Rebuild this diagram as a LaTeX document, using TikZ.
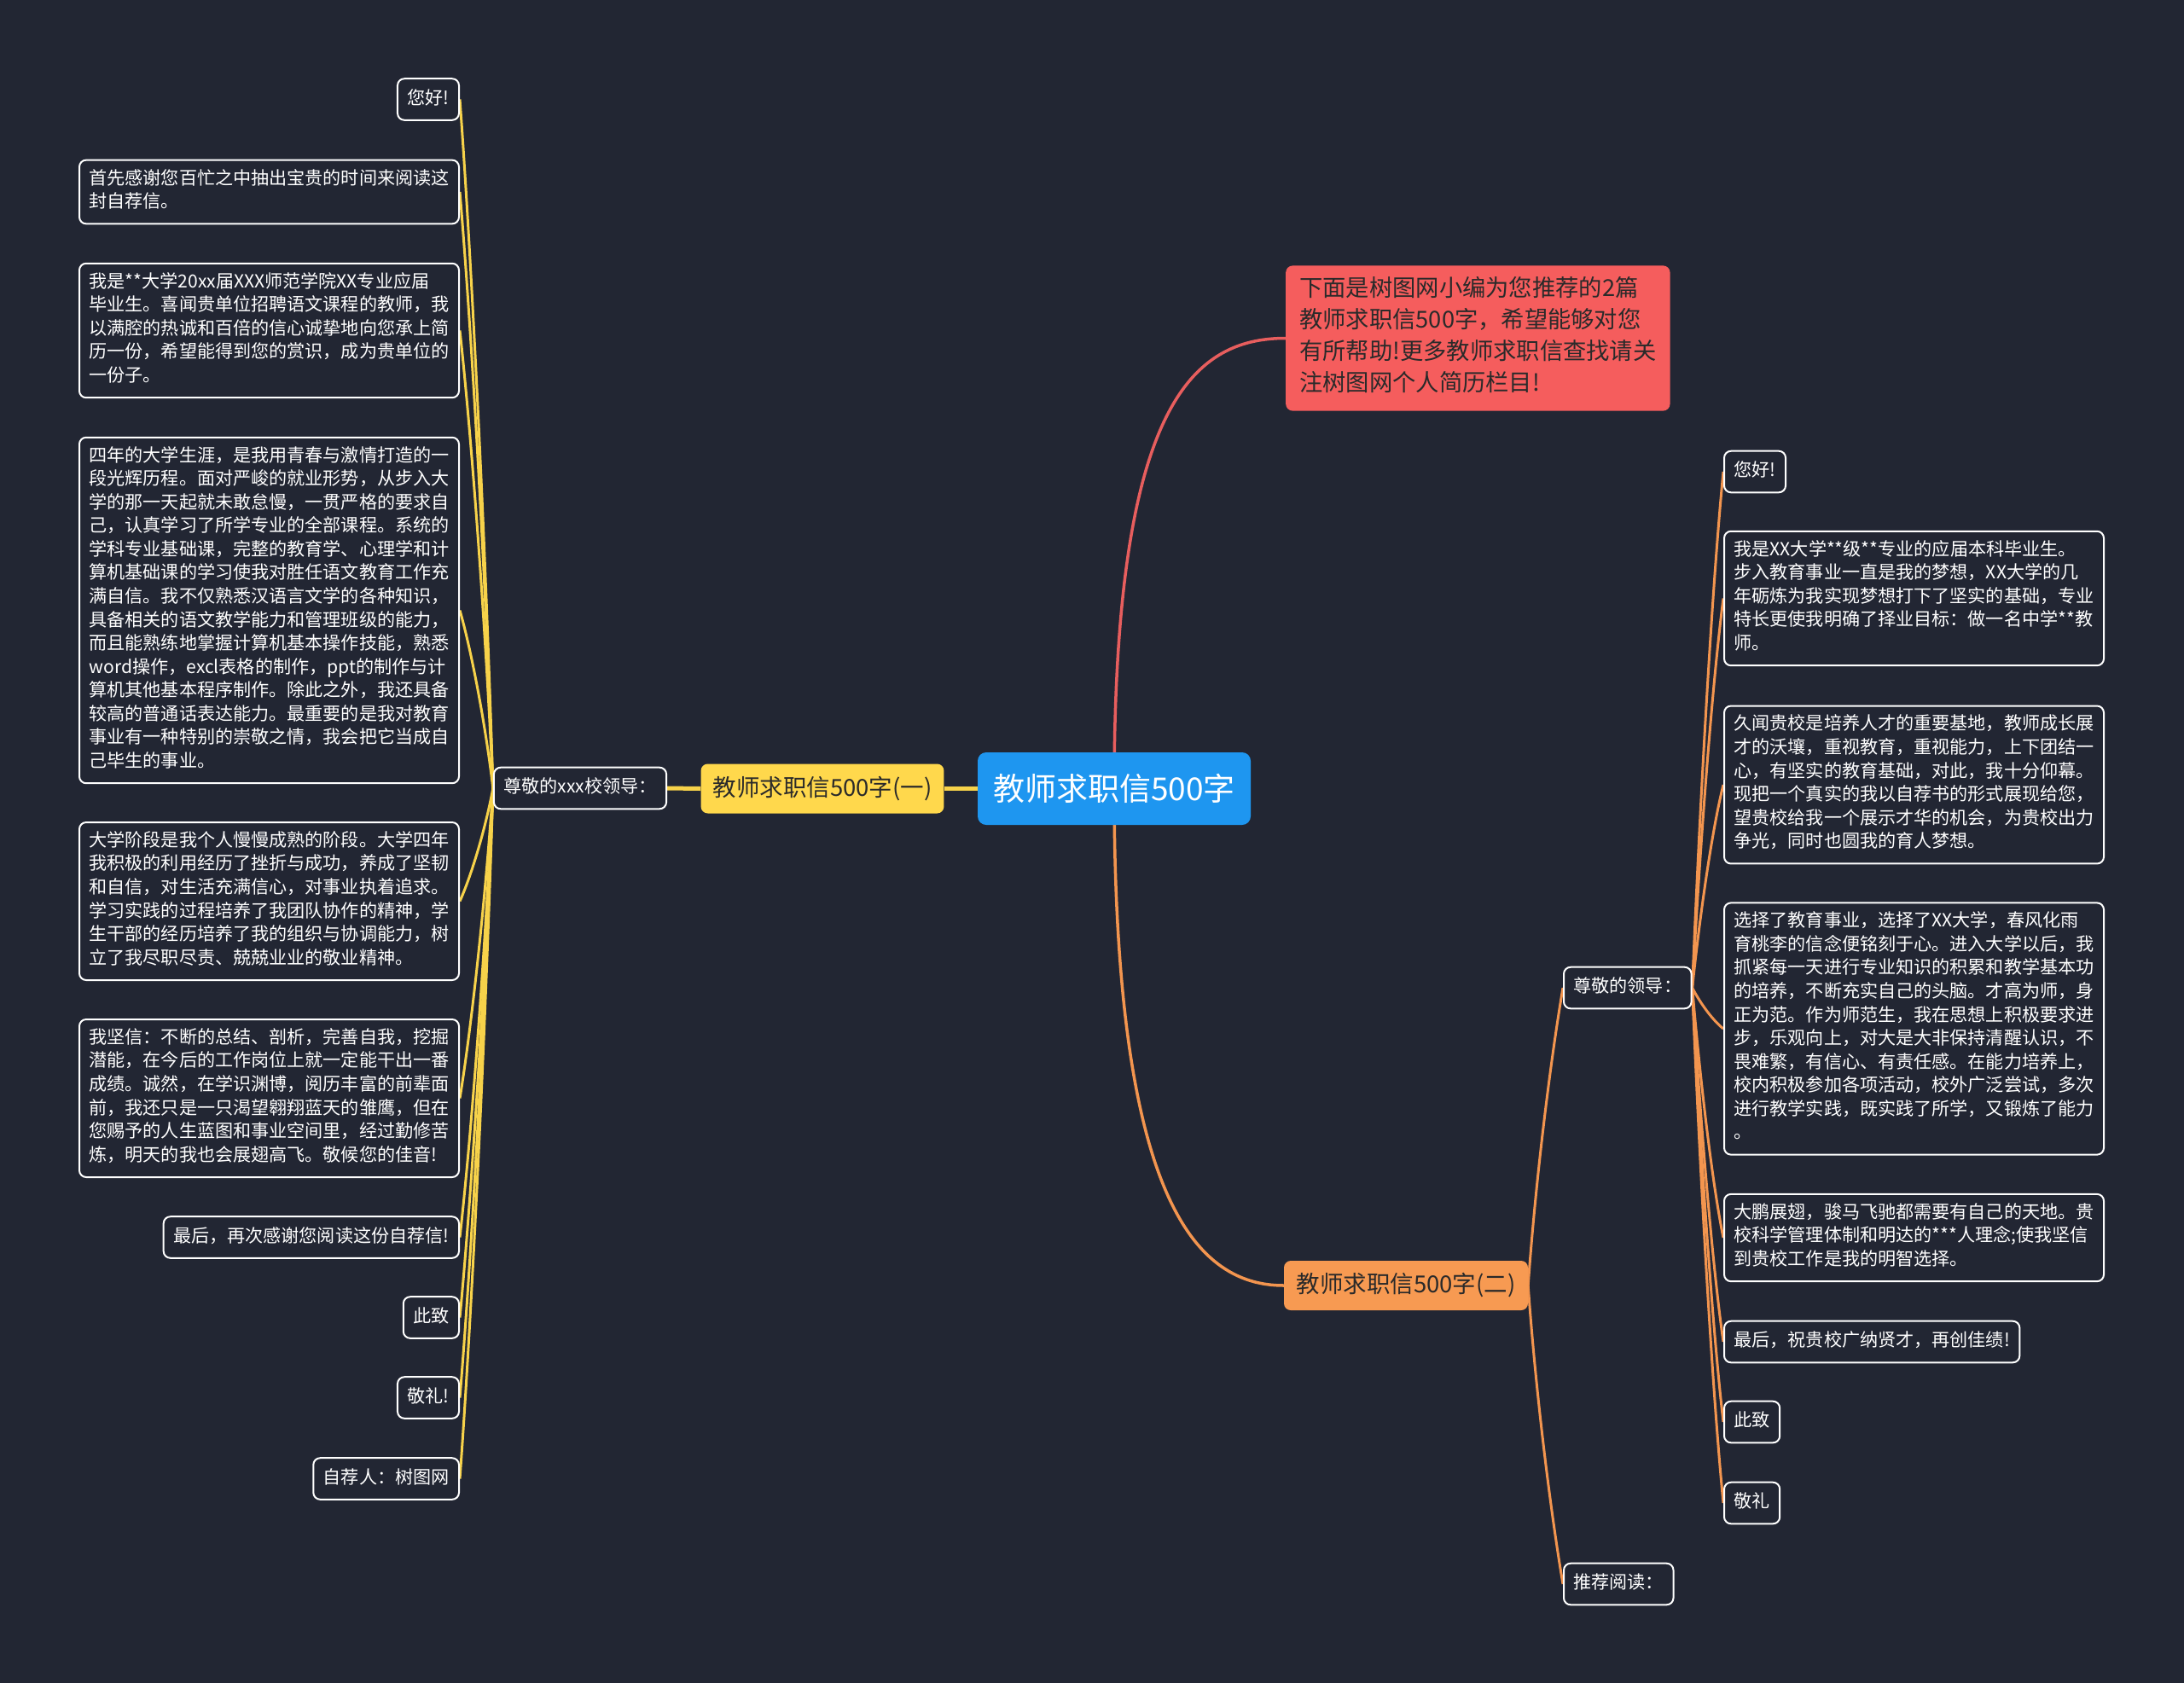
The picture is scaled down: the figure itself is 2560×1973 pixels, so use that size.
\documentclass[tikz,border=0pt]{standalone}
\usepackage{fontspec}
\newfontfamily\cjk{Noto Sans CJK SC}
\usetikzlibrary{calc}
\definecolor{bgc}{HTML}{222633}
\definecolor{rootc}{HTML}{1E96F0}
\definecolor{redc}{HTML}{F55D5D}
\definecolor{yelc}{HTML}{FFD84C}
\definecolor{orac}{HTML}{F79A52}
\definecolor{redl}{HTML}{E85E5E}
\definecolor{yell}{HTML}{F7D24A}
\definecolor{oral}{HTML}{F3954F}
\definecolor{darktxt}{HTML}{2A2A2A}
\pgfdeclarelayer{bgl}\pgfdeclarelayer{edgel}\pgfsetlayers{bgl,edgel,main}
\tikzset{
  leaf/.style={draw=white, line width=2pt, rounded corners=8pt, fill=bgc, text=white,
    inner xsep=11.5pt, inner ysep=10.5pt, align=left,
    font=\cjk\fontsize{21.1pt}{27.56pt}\selectfont,
    execute at begin node=\strut, execute at end node=\strut},
  rootn/.style={fill=rootc, rounded corners=10pt, text=white, minimum width=320pt,
    minimum height=85pt, inner sep=0pt, font=\cjk\fontsize{37pt}{43pt}\selectfont},
  branchn/.style={rounded corners=8pt, text=darktxt, minimum height=58pt, inner xsep=14pt,
    inner ysep=0pt, font=\cjk\fontsize{27.5pt}{33pt}\selectfont},
  redn/.style={fill=redc, rounded corners=8pt, text=darktxt, align=left,
    inner xsep=16pt, inner ysep=12.5pt, font=\cjk\fontsize{27.3pt}{37pt}\selectfont,
    execute at begin node=\strut, execute at end node=\strut},
  yconn/.style={draw=yell, line width=3pt},
  oconn/.style={draw=oral, line width=3pt},
}
\newcommand\mmlink[5]{%
  \draw[#1] let \p1=(#2), \p2=(#3) in (\p1) .. controls ({\x1+(#4)}, {\y1+0.4*(\y2-\y1)}) and ({\x2+(#5)}, {\y2-0.2*(\y2-\y1)}) .. (\p2);}
\begin{document}
\begin{tikzpicture}[x=1pt,y=1pt]
\begin{pgfonlayer}{bgl}
\fill[bgc] (0,0) rectangle (2560,-1973);
\end{pgfonlayer}
\useasboundingbox (0,0) rectangle (2560,-1973);

% central and main branches
\node[rootn] (root) at (1306,-924.5) {教师求职信500字};
\node[branchn, fill=yelc, minimum width=284pt] (yb) at (964,-924.5) {教师求职信500字(一)};
\node[branchn, fill=orac, minimum width=286pt] (ob) at (1648,-1507) {教师求职信500字(二)};
\node[redn, anchor=west] (red) at (1507,-396.5) {下面是树图网小编为您推荐的2篇\\教师求职信500字，希望能够对您\\有所帮助!更多教师求职信查找请关\\注树图网个人简历栏目!};

% left hub and leaves
\node[leaf] (hl) at (680,-924) {尊敬的xxx校领导：};
\node[leaf, anchor=east] (l1) at (539,-116.5) {您好!};
\node[leaf, anchor=east] (l2) at (539,-225) {首先感谢您百忙之中抽出宝贵的时间来阅读这\\封自荐信。};
\node[leaf, anchor=east] (l3) at (539,-387.5) {我是**大学20xx届XXX师范学院XX专业应届\\毕业生。喜闻贵单位招聘语文课程的教师，我\\以满腔的热诚和百倍的信心诚挚地向您承上简\\历一份，希望能得到您的赏识，成为贵单位的\\一份子。};
\node[leaf, anchor=east] (l4) at (539,-715.5) {四年的大学生涯，是我用青春与激情打造的一\\段光辉历程。面对严峻的就业形势，从步入大\\学的那一天起就未敢怠慢，一贯严格的要求自\\己，认真学习了所学专业的全部课程。系统的\\学科专业基础课，完整的教育学、心理学和计\\算机基础课的学习使我对胜任语文教育工作充\\满自信。我不仅熟悉汉语言文学的各种知识，\\具备相关的语文教学能力和管理班级的能力，\\而且能熟练地掌握计算机基本操作技能，熟悉\\word操作，excl表格的制作，ppt的制作与计\\算机其他基本程序制作。除此之外，我还具备\\较高的普通话表达能力。最重要的是我对教育\\事业有一种特别的崇敬之情，我会把它当成自\\己毕生的事业。};
\node[leaf, anchor=east] (l5) at (539,-1056.5) {大学阶段是我个人慢慢成熟的阶段。大学四年\\我积极的利用经历了挫折与成功，养成了坚韧\\和自信，对生活充满信心，对事业执着追求。\\学习实践的过程培养了我团队协作的精神，学\\生干部的经历培养了我的组织与协调能力，树\\立了我尽职尽责、兢兢业业的敬业精神。};
\node[leaf, anchor=east] (l6) at (539,-1287.5) {我坚信：不断的总结、剖析，完善自我，挖掘\\潜能，在今后的工作岗位上就一定能干出一番\\成绩。诚然，在学识渊博，阅历丰富的前辈面\\前，我还只是一只渴望翱翔蓝天的雏鹰，但在\\您赐予的人生蓝图和事业空间里，经过勤修苦\\炼，明天的我也会展翅高飞。敬候您的佳音!};
\node[leaf, anchor=east] (l7) at (539,-1450.5) {最后，再次感谢您阅读这份自荐信!};
\node[leaf, anchor=east] (l8) at (539,-1544.5) {此致};
\node[leaf, anchor=east] (l9) at (539,-1638.5) {敬礼!};
\node[leaf, anchor=east] (l10) at (539,-1733.5) {自荐人：树图网};

% right hubs and leaves
\node[leaf, anchor=west] (hr) at (1832,-1158) {尊敬的领导：};
\node[leaf, anchor=west] (tj) at (1832,-1857) {推荐阅读：};
\node[leaf, anchor=west] (r1) at (2020,-553) {您好!};
\node[leaf, anchor=west] (r2) at (2020,-701.5) {我是XX大学**级**专业的应届本科毕业生。\\步入教育事业一直是我的梦想，XX大学的几\\年砺炼为我实现梦想打下了坚实的基础，专业\\特长更使我明确了择业目标：做一名中学**教\\师。};
\node[leaf, anchor=west] (r3) at (2020,-920) {久闻贵校是培养人才的重要基地，教师成长展\\才的沃壤，重视教育，重视能力，上下团结一\\心，有坚实的教育基础，对此，我十分仰幕。\\现把一个真实的我以自荐书的形式展现给您，\\望贵校给我一个展示才华的机会，为贵校出力\\争光，同时也圆我的育人梦想。};
\node[leaf, anchor=west] (r4) at (2020,-1206) {选择了教育事业，选择了XX大学，春风化雨\\育桃李的信念便铭刻于心。进入大学以后，我\\抓紧每一天进行专业知识的积累和教学基本功\\的培养，不断充实自己的头脑。才高为师，身\\正为范。作为师范生，我在思想上积极要求进\\步，乐观向上，对大是大非保持清醒认识，不\\畏难繁，有信心、有责任感。在能力培养上，\\校内积极参加各项活动，校外广泛尝试，多次\\进行教学实践，既实践了所学，又锻炼了能力\\。};
\node[leaf, anchor=west] (r5) at (2020,-1451) {大鹏展翅，骏马飞驰都需要有自己的天地。贵\\校科学管理体制和明达的***人理念;使我坚信\\到贵校工作是我的明智选择。};
\node[leaf, anchor=west] (r6) at (2020,-1573) {最后，祝贵校广纳贤才，再创佳绩!};
\node[leaf, anchor=west] (r7) at (2020,-1667) {此致};
\node[leaf, anchor=west] (r8) at (2020,-1762) {敬礼};

\begin{pgfonlayer}{edgel}
% main connectors
\draw[draw=redl, line width=3.5pt] (root.center) .. controls ($(root.center)+(0,444)$) and ($(red.west)+(-112,0)$) .. (red.west);
\draw[draw=oral, line width=3.5pt] (root.center) .. controls ($(root.center)+(0,-466)$) and ($(ob.west)+(-110,0)$) .. (ob.west);
\draw[draw=yell, line width=5pt] (root.west) -- (yb.east);
\draw[draw=yell, line width=5pt] (yb.west) -- (hl.east);
% left leaves
\foreach \nm in {l1,l2,l3,l4,l5,l6,l7,l8,l9,l10}{
  \mmlink{yconn}{hl.west}{\nm.east}{-10pt}{12pt}
}
% right side
\mmlink{oconn}{ob.east}{hr.west}{10pt}{-12pt}
\mmlink{oconn}{ob.east}{tj.west}{10pt}{-12pt}
\foreach \nm in {r1,r2,r3,r4,r5,r6,r7,r8}{
  \mmlink{oconn}{hr.east}{\nm.west}{10pt}{-12pt}
}
\end{pgfonlayer}
\end{tikzpicture}
\end{document}
